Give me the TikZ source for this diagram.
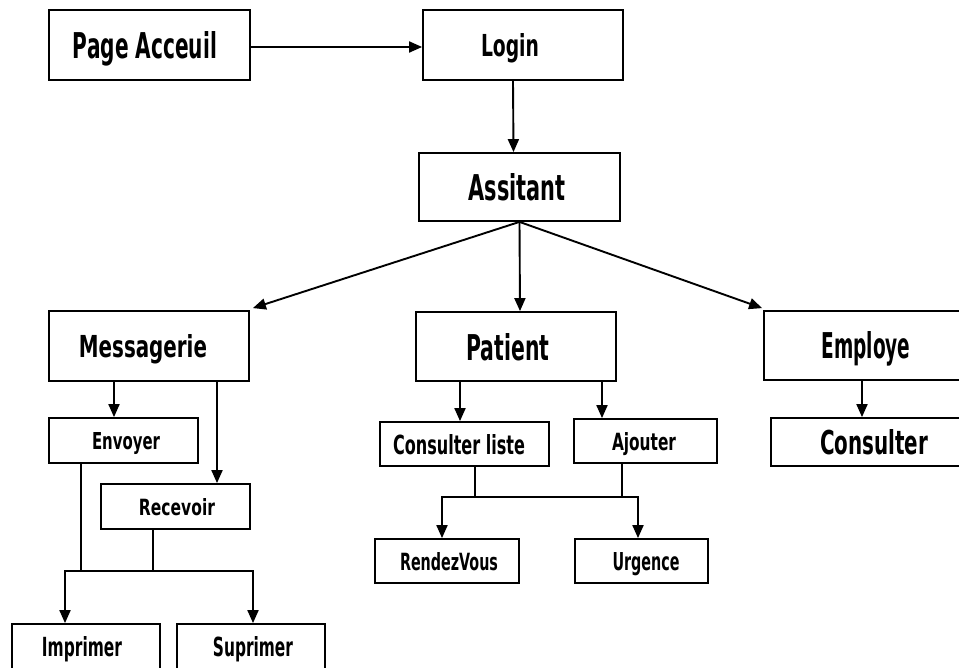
\documentclass[tikz,border=0pt]{standalone}
\usepackage{graphicx}
\usepackage{fontspec}
\setmainfont{DejaVu Sans}
\usetikzlibrary{arrows.meta}
\newcommand{\lbl}[4]{\makebox[#1pt]{\hspace*{#3pt}\hspace*{#3pt}\raisebox{0pt}[\height][0pt]{\resizebox{#1pt}{#2pt}{\bfseries #4}}}}
\tikzset{
  box/.style={draw, line width=1.8pt, inner sep=0pt, fill=white},
  arr/.style={line width=1.9pt, -{Triangle[length=13pt,width=11pt]}},
  ln/.style={line width=1.9pt}
}
\begin{document}
\begin{tikzpicture}[x=1pt,y=-1pt]
\useasboundingbox (0,0) rectangle (959,668);
\fill[white] (0,0) rectangle (959,668);
\clip (0,0) rectangle (959,668);
% top row
\node[box, minimum width=201pt, minimum height=70pt] (pa) at (149.5,45) {\lbl{144}{27}{-4.5}{Page Acceuil}};
\node[box, minimum width=200pt, minimum height=70pt] (login) at (523,45) {\lbl{58}{23}{-13}{Login}};
\node[box, minimum width=201pt, minimum height=68pt] (ass) at (519.5,187) {\lbl{97}{27}{-2.5}{Assitant}};
% second level
\node[box, minimum width=200pt, minimum height=70pt] (msg) at (149,346) {\lbl{128}{23}{-6}{Messagerie}};
\node[box, minimum width=200pt, minimum height=69pt] (pat) at (516,346.5) {\lbl{83}{27}{-8}{Patient}};
\node[box, minimum width=200pt, minimum height=69pt] (emp) at (864,345.5) {\lbl{89}{27}{2}{Employe}};
% Messagerie children
\node[box, minimum width=149pt, minimum height=45pt] (env) at (123.5,440.5) {\lbl{68}{17}{2.5}{Envoyer}};
\node[box, minimum width=149pt, minimum height=45pt] (rec) at (175.5,506.5) {\lbl{76}{17}{1.5}{Recevoir}};
\node[box, minimum width=148pt, minimum height=45pt] (imp) at (86,646.5) {\lbl{80}{20}{-4}{Imprimer}};
\node[box, minimum width=148pt, minimum height=45pt] (sup) at (251,646.5) {\lbl{80}{20}{2}{Suprimer}};
% Patient children
\node[box, minimum width=169pt, minimum height=44pt] (cl) at (464.5,444) {\lbl{132}{20}{-5.5}{Consulter liste}};
\node[box, minimum width=143pt, minimum height=44pt] (aj) at (645.5,441) {\lbl{64}{18}{-1.5}{Ajouter}};
\node[box, minimum width=144pt, minimum height=44pt] (rdv) at (447,561) {\lbl{98}{18}{2}{RendezVous}};
\node[box, minimum width=133pt, minimum height=44pt] (urg) at (641.5,561) {\lbl{67}{18}{4.5}{Urgence}};
% Employe child
\node[box, minimum width=200pt, minimum height=48pt] (cons) at (871,442) {\lbl{108}{25}{3}{Consulter}};
% connectors
\draw[arr] ([yshift=-2pt]pa.east) -- ([yshift=-2pt]login.west);
\draw[arr] ([xshift=-10pt]login.south) -- ([xshift=-6pt]ass.north);
\draw[arr] (ass.south) -- ([xshift=3pt,yshift=2pt]msg.north east);
\draw[arr] (ass.south) -- ([xshift=4pt]pat.north);
\draw[arr] (ass.south) -- ([xshift=-1pt,yshift=2pt]emp.north west);
% Messagerie
\draw[arr] ([xshift=-35pt]msg.south) -- ([xshift=-35pt]msg.south |- env.north);
\draw[arr] ([xshift=68pt]msg.south) -- ([xshift=68pt]msg.south |- rec.north);
\coordinate (jl) at (65,571);
\coordinate (jr) at (253,571);
\draw[ln] ([xshift=-42.5pt]env.south) -- ([xshift=-42.5pt]env.south |- jl);
\draw[ln] ([xshift=-22.5pt]rec.south) -- ([xshift=-22.5pt]rec.south |- jl);
\draw[ln, line cap=rect] (jl) -- (jr);
\draw[arr] (jl) -- (jl |- imp.north);
\draw[arr] (jr) -- (jr |- sup.north);
% Patient
\draw[arr] ([xshift=-56pt]pat.south) -- ([xshift=-56pt]pat.south |- cl.north);
\draw[arr] ([xshift=86pt]pat.south) -- ([xshift=86pt]pat.south |- aj.north);
\coordinate (pl) at (442,497);
\coordinate (pr) at (638,497);
\draw[ln] ([xshift=10.5pt]cl.south) -- ([xshift=10.5pt]cl.south |- pl);
\draw[ln] ([xshift=-23.5pt]aj.south) -- ([xshift=-23.5pt]aj.south |- pl);
\draw[ln, line cap=rect] (pl) -- (pr);
\draw[arr] (pl) -- (pl |- rdv.north);
\draw[arr] (pr) -- (pr |- urg.north);
% Employe
\draw[arr] ([xshift=-2pt]emp.south) -- ([xshift=-2pt]emp.south |- cons.north);
\end{tikzpicture}
\end{document}
